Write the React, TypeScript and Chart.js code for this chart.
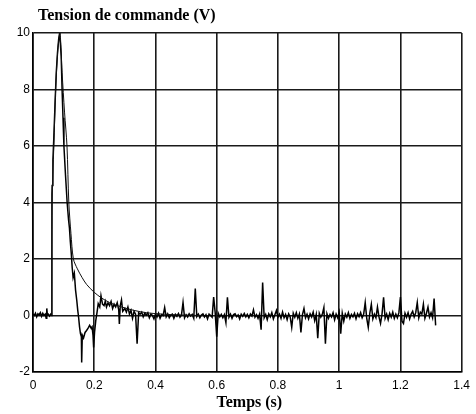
import React, { useEffect, useRef } from "react";
import { Chart, registerables } from "chart.js";

Chart.register(...registerables);

// Transient part of the measured control voltage (s, V)
const measTime = [
  0, 0.004, 0.008, 0.012, 0.016, 0.02, 0.024, 0.028, 0.032, 0.036,
  0.04, 0.043, 0.045, 0.047, 0.05, 0.054, 0.058, 0.061, 0.0618, 0.0625,
  0.065, 0.068, 0.072, 0.076, 0.08, 0.084, 0.087, 0.089, 0.092, 0.095,
  0.098, 0.101, 0.106, 0.1115, 0.116, 0.119, 0.122, 0.125, 0.128, 0.131,
  0.135, 0.139, 0.143, 0.146, 0.149, 0.152, 0.155, 0.158, 0.159, 0.161,
  0.165, 0.17, 0.175, 0.18, 0.185, 0.19, 0.193, 0.196, 0.198, 0.201,
  0.205, 0.209, 0.213, 0.218, 0.222, 0.227, 0.232, 0.236, 0.24, 0.245,
  0.25, 0.255, 0.26, 0.265, 0.27, 0.275, 0.28, 0.282, 0.285, 0.289,
  0.293,
];
const measVolt = [
  0.05, 0.0, 0.08, -0.05, 0.06, 0.02, 0.1, -0.03, 0.08, 0.0,
  0.05, -0.1, 0.25, 0.02, 0.05, -0.02, 0.05, 0.0, 4.3, 4.6,
  5.5, 6.3, 7.5, 8.6, 9.3, 9.8, 10, 9.7, 9.2, 8.0,
  7.0, 6.0, 5.0, 4.0, 3.4, 3.1, 2.6, 2.2, 1.7, 1.34,
  1.5, 0.9, 0.53, 0.2, -0.07, -0.4, -0.64, -0.75, -1.66, -0.7,
  -0.8, -0.6, -0.53, -0.45, -0.35, -0.45, -0.4, -0.7, -1.13, -0.6,
  -0.18, 0.1, 0.42, 0.3, 0.7, 0.4, 0.35, 0.5, 0.3, 0.45,
  0.35, 0.5, 0.25, 0.4, 0.3, 0.45, 0.2, -0.3, 0.35, 0.55,
  0.15,
];

// Steady-state part of the measured signal, sampled every noiseStep from noiseStart
const noiseStart = 0.3;
const noiseStep = 0.005;
const noiseVolt = [
  0.25, 0.12, 0.3, 0.05, 0.18, -0.1, 0.15, 0.05, -1.0, 0.1, 0.05, 0.12, -0.05, 0.08, 0.02, 0.1, -0.08, 0.05, 0.0, -0.12,
  0.05, -0.05, 0.08, -0.1, 0.03, 0.0, 0.28, -0.05, 0.06, -0.08, 0.02, 0.05, -0.1, 0.04, -0.03, 0.07, -0.06, 0.02, 0.46, -0.08,
  0.03, -0.05, 0.06, -0.02, 0.04, -0.1, 0.95, -0.04, 0.05, -0.08, 0.02, 0.06, -0.05, 0.03, -0.12, 0.05, 0.0, -0.06, 0.65, 0.1,
  -0.75, 0.08, -0.05, 0.04, -0.08, 0.03, -0.25, 0.64, -0.06, 0.05, -0.1, 0.03, 0.06, -0.04, 0.02, -0.12, 0.05, -0.03, 0.07, -0.05,
  0.04, -0.08, 0.05, -0.02, 0.2, -0.06, 0.03, -0.1, 0.05, -0.5, 1.17, -0.08, 0.04, -0.15, 0.06, -0.05, 0.1, -0.12, 0.03, 0.18,
  -0.06, 0.05, -0.1, 0.12, -0.08, 0.04, -0.15, 0.06, -0.05, -0.42, 0.08, -0.06, 0.1, -0.1, 0.05, -0.6, 0.03, 0.25, -0.08, 0.05,
  -0.12, 0.06, -0.05, 0.12, -0.18, 0.04, -0.8, 0.08, -0.06, 0.05, 0.28, -1.0, 0.06, -0.1, 0.04, -0.05, 0.1, -0.15, 0.05, -0.08,
  0.12, -0.64, 0.08, -0.2, 0.05, -0.06, 0.1, -0.1, 0.04, -0.05, 0.08, -0.12, 0.06, -0.04, 0.1, -0.08, 0.05, 0.46, -0.1, -0.42,
  0.08, 0.4, -0.12, 0.05, -0.08, 0.3, -0.05, -0.28, 0.06, 0.64, -0.1, 0.05, -0.15, 0.08, -0.06, 0.12, -0.1, 0.05, -0.08, 0.1,
  0.65, -0.2, -0.28, 0.08, -0.06, 0.1, -0.12, 0.05, 0.15, -0.05, 0.1, 0.46, -0.08, 0.12, 0.05, 0.4, -0.1, 0.08, 0.3, -0.05,
  0.1, -0.08, 0.6, -0.35,
];

// Smooth (model) control voltage
const modelTime = [
  0.061, 0.0625, 0.068, 0.074, 0.081, 0.088, 0.095, 0.103, 0.111, 0.117,
  0.124, 0.132, 0.145, 0.16, 0.175, 0.2, 0.224, 0.25, 0.29, 0.33,
  0.37, 0.42, 0.48, 0.55,
];
const modelVolt = [
  0, 4, 6, 8, 9.4, 10, 8.6, 7.2, 6, 4,
  2.9, 2.0, 1.65, 1.35, 1.1, 0.82, 0.62, 0.46, 0.3, 0.18,
  0.1, 0.05, 0.02, 0,
];

const xTicks = [0, 0.2, 0.4, 0.6, 0.8, 1, 1.2, 1.4];
const yTicks = [-2, 0, 2, 4, 6, 8, 10];
const chartTitle = "Tension de commande (V)";
const xTitle = "Temps (s)";

export default function App() {
  const ref = useRef<HTMLCanvasElement | null>(null);

  useEffect(() => {
    const canvas = ref.current;
    if (!canvas) return;

    const measured = measTime.map((t, i) => ({ x: t, y: measVolt[i] }));
    noiseVolt.forEach((v, i) => {
      measured.push({ x: noiseStart + i * noiseStep, y: v });
    });
    const model = modelTime.map((t, i) => ({ x: t, y: modelVolt[i] }));

    const textPlugin = {
      id: "texts",
      afterDraw(chart: any) {
        const ctx = chart.ctx;
        const area = chart.chartArea;
        ctx.save();
        ctx.fillStyle = "#000";
        ctx.font = "bold 16px 'Liberation Serif', 'Times New Roman', serif";
        ctx.textAlign = "left";
        ctx.textBaseline = "middle";
        ctx.fillText(chartTitle, area.left + 5, 16);
        ctx.textAlign = "center";
        ctx.fillText(xTitle, (area.left + area.right) / 2 + 2, 403);
        ctx.restore();
      },
    };

    const chart = new Chart(canvas, {
      type: "line",
      data: {
        datasets: [
          {
            data: model,
            borderColor: "#111",
            borderWidth: 1,
            pointRadius: 0,
            tension: 0.3,
            fill: false,
          },
          {
            data: measured,
            borderColor: "#000",
            borderWidth: 1.5,
            pointRadius: 0,
            tension: 0,
            fill: false,
          },
        ],
      },
      options: {
        responsive: false,
        animation: false,
        layout: { padding: { left: 0, top: 33, right: 12, bottom: 0 } },
        plugins: {
          legend: { display: false },
          title: { display: false },
          tooltip: { enabled: false },
        },
        scales: {
          x: {
            type: "linear",
            min: 0,
            max: 1.4,
            afterFit(scale: any) {
              scale.height = 42;
            },
            afterBuildTicks(scale: any) {
              scale.ticks = xTicks.map((v) => ({ value: v }));
            },
            ticks: {
              padding: 6,
              color: "#000",
              font: { family: "'Liberation Sans', Arial, sans-serif", size: 12 },
              maxRotation: 0,
              autoSkip: false,
              callback: (v: any) => String(Number(Number(v).toFixed(1))),
            },
            grid: { color: "#1a1a1a", lineWidth: 1.6, drawTicks: false },
            border: { color: "#000", width: 1.6 },
          },
          y: {
            type: "linear",
            min: -2,
            max: 10,
            afterFit(scale: any) {
              scale.width = 33;
            },
            afterBuildTicks(scale: any) {
              scale.ticks = yTicks.map((v) => ({ value: v }));
            },
            ticks: {
              padding: 3,
              color: "#000",
              font: { family: "'Liberation Sans', Arial, sans-serif", size: 12 },
              autoSkip: false,
              callback: (v: any) => String(v),
            },
            grid: { color: "#1a1a1a", lineWidth: 1.6, drawTicks: false },
            border: { color: "#000", width: 1.6 },
          },
        },
      },
      plugins: [textPlugin],
    });

    return () => chart.destroy();
  }, []);

  return (
    <div style={{ position: "absolute", left: 0, top: 0, width: 476, height: 414, background: "#fff" }}>
      <canvas ref={ref} width={476} height={414} />
    </div>
  );
}
